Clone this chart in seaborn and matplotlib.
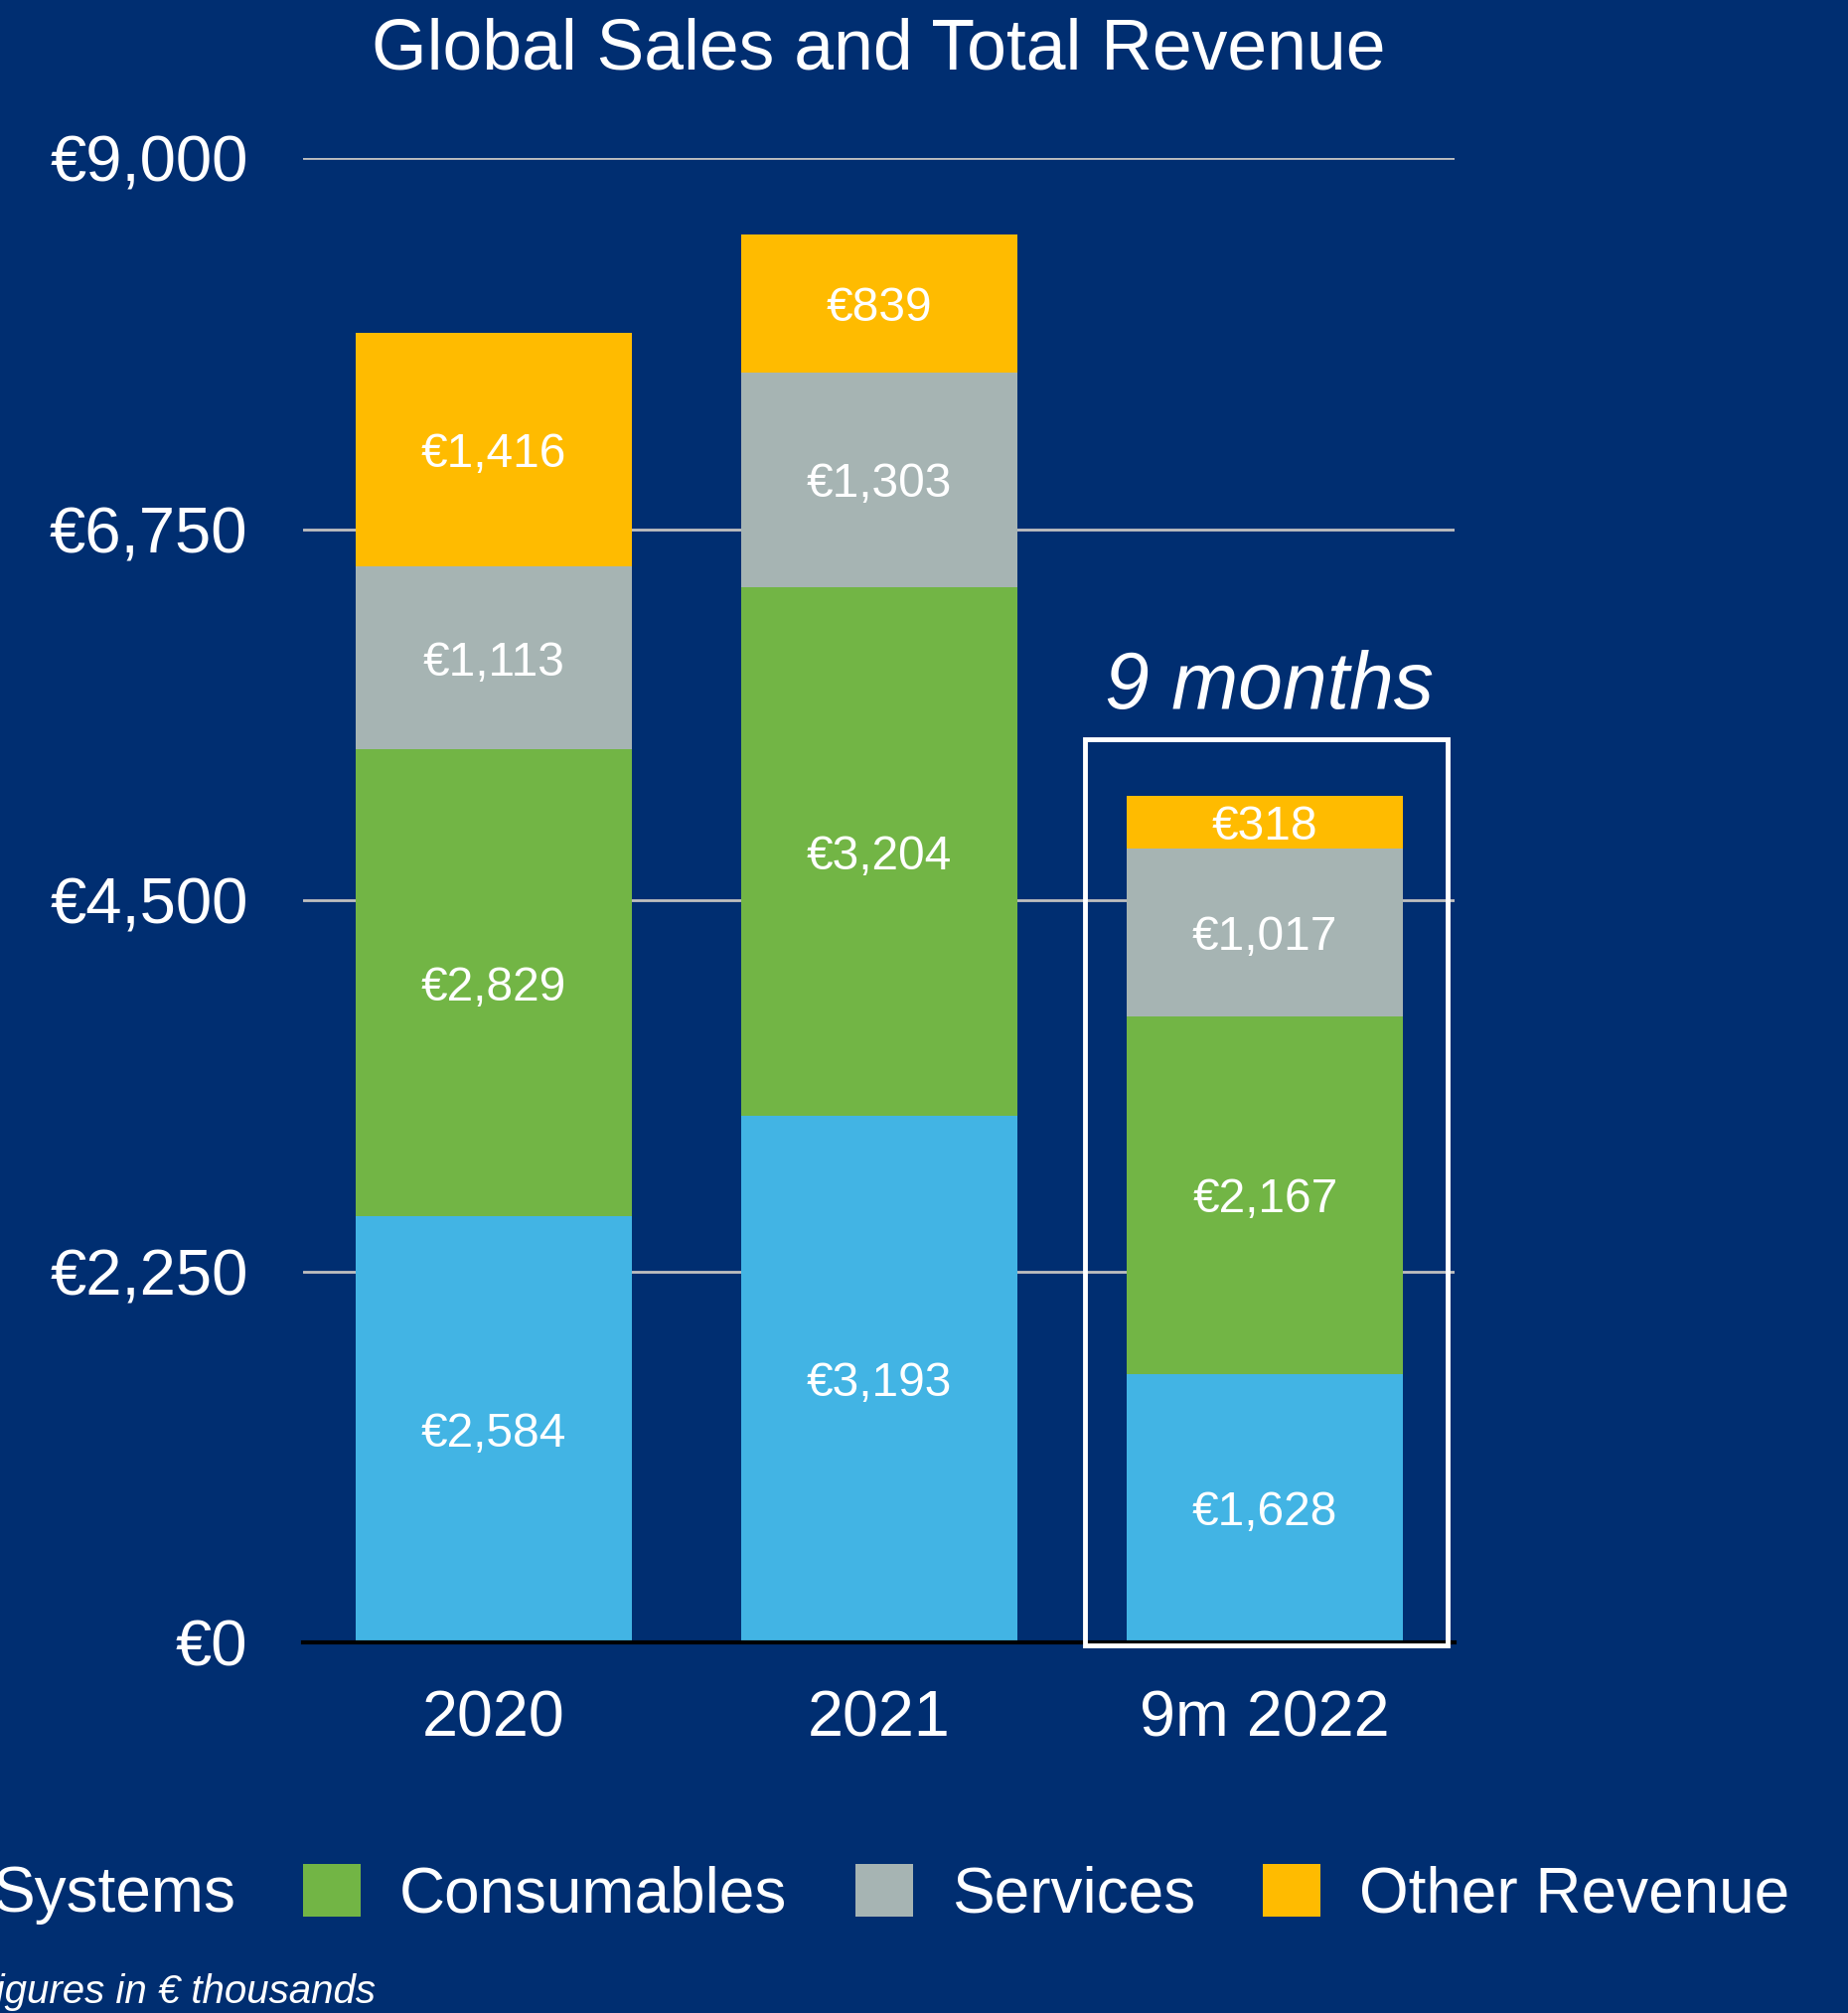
import matplotlib
matplotlib.use("Agg")
import matplotlib.pyplot as plt
import seaborn as sns
import pandas as pd
import numpy as np
from matplotlib.patches import Patch, Rectangle

periods = ["2020", "2021", "9m 2022"]
series_names = ["Systems", "Consumables", "Services", "Other Revenue"]
systems = [2584, 3193, 1628]
consumables = [2829, 3204, 2167]
services = [1113, 1303, 1017]
other_revenue = [1416, 839, 318]
y_ticks = [0, 2250, 4500, 6750, 9000]
y_tick_labels = ["€0", "€2,250", "€4,500", "€6,750", "€9,000"]

bg = "#002E71"
colors = ["#42B4E4", "#72B545", "#A6B4B3", "#FFBB00"]

sns.set_theme(style="white")
plt.rcParams["font.family"] = ["Liberation Sans", "DejaVu Sans"]

df = pd.DataFrame({"period": periods, "Systems": systems, "Consumables": consumables,
                   "Services": services, "Other Revenue": other_revenue})
values = df[series_names].to_numpy()
cum = values.cumsum(axis=1)

fig = plt.figure(figsize=(18.6, 20.26), dpi=100, facecolor=bg)
ax = fig.add_axes([0.164, 0.1841, 0.623, 0.7374], facecolor=bg)

# gridlines behind bars
for t in y_ticks[1:]:
    ax.axhline(t, color="#BFBFBF", lw=2, zorder=0)

# stacked bars: draw cumulative totals from the top down
for i in reversed(range(len(series_names))):
    sns.barplot(x=df["period"], y=cum[:, i], color=colors[i], saturation=1,
                width=0.716, ax=ax, zorder=2, edgecolor="none")

# segment labels
for j in range(len(periods)):
    for i in range(len(series_names)):
        mid = cum[j, i] - values[j, i] / 2
        ax.text(j, mid, f"€{values[j, i]:,}", ha="center", va="center_baseline",
                color="white", fontsize=34.5, zorder=5)

ax.set_xlim(-0.494, 2.491)
ax.set_ylim(0, 9000)
ax.set_yticks(y_ticks)
ax.set_yticklabels(y_tick_labels)
ax.set_xlabel("")
ax.set_ylabel("")
ax.tick_params(axis="y", length=0, pad=40, labelsize=47, colors="white")
ax.tick_params(axis="x", length=0, pad=34, labelsize=46.5, colors="white")
for s in ["top", "right", "left"]:
    ax.spines[s].set_visible(False)
ax.spines["bottom"].set_color("black")
ax.spines["bottom"].set_linewidth(3)
ax.spines["bottom"].set_zorder(3)

# 9 months box
ax.add_patch(Rectangle((1.533, -15), 2.474 - 1.533, 5476 + 15, fill=False,
                       edgecolor="white", lw=3.5, clip_on=False, zorder=4))
ax.text(2.012, 5790, "9 months", ha="center", va="center", color="white",
        fontsize=58, style="italic", zorder=5)

fig.text(0.4755, 0.975, "Global Sales and Total Revenue", ha="center", va="center",
         color="white", fontsize=51.5)

handles = [Patch(facecolor=c, edgecolor="none", label=n) for c, n in zip(colors, series_names)]
fig.legend(handles=handles, loc="center", bbox_to_anchor=(0.456, 0.059), ncol=4,
           frameon=False, fontsize=46, labelcolor="white", handlelength=0.91,
           handleheight=0.91, handletextpad=0.61, columnspacing=1.07)

fig.text(0.203, 0.0104, "Figures in € thousands", ha="right", va="center",
         color="white", fontsize=29, style="italic")

fig.savefig("out.png", dpi=100, facecolor=bg)
